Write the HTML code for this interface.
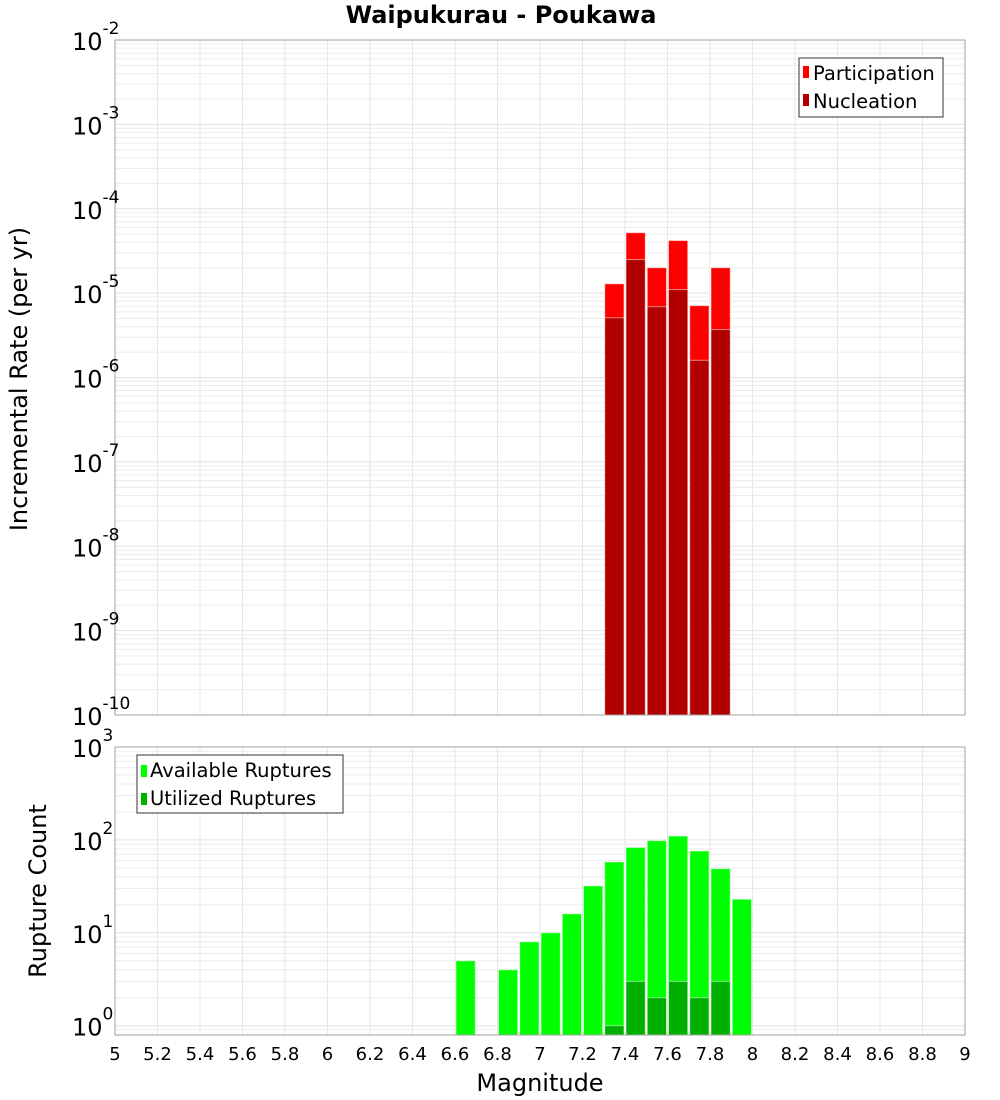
<!DOCTYPE html>
<html><head><meta charset="utf-8"><style>
html,body{margin:0;padding:0;background:#fff;}
svg{display:block;font-family:"DejaVu Sans","Liberation Sans",sans-serif;}
</style></head><body>
<svg id="c" width="1000" height="1100" viewBox="0 0 1000 1100"></svg>
<script>
const magBins=[7.35,7.45,7.55,7.65,7.75,7.85];
const participation=[1.29e-5,5.2e-5,2.0e-5,4.2e-5,7.1e-6,2.0e-5];
const nucleation=[5.1e-6,2.5e-5,6.9e-6,1.1e-5,1.6e-6,3.7e-6];
const countBins=[6.65,6.85,6.95,7.05,7.15,7.25,7.35,7.45,7.55,7.65,7.75,7.85,7.95];
const available=[5,4,8,10,16,32,58,83,98,110,76,49,23];
const utilBins=[7.35,7.45,7.55,7.65,7.75,7.85];
const utilized=[1,3,2,3,2,3];
const xTicks=[5,5.2,5.4,5.6,5.8,6,6.2,6.4,6.6,6.8,7,7.2,7.4,7.6,7.8,8,8.2,8.4,8.6,8.8,9];
const topDecades=[-2,-3,-4,-5,-6,-7,-8,-9,-10];
const botDecades=[3,2,1,0];

const NS="http://www.w3.org/2000/svg";
const svg=document.getElementById('c');
function mk(tag,attrs,parent){const e=document.createElementNS(NS,tag);for(const k in attrs)e.setAttribute(k,attrs[k]);(parent||svg).appendChild(e);return e;}
const L=115,R=965;
const x=v=>L+(v-5)*(R-L)/4;
const T1=40,B1=715,T2=747,B2=1035;
const yTop=v=>T1+(-2-Math.log10(v))*(B1-T1)/8;
const yBot=v=>T2+(3-Math.log10(v))*(B2-T2)/3.1;

function grid(top,bot,yf,dmin,dmax){
  const g=mk('g',{});
  
  
  for(let d=Math.floor(dmin);d<dmax;d++){for(let m=1;m<10;m++){const v=m*Math.pow(10,d);const yy=yf(v);if(yy<top-0.5||yy>bot+0.5)continue;mk('line',{x1:L,x2:R,y1:yy,y2:yy,stroke:m==1?'#e2e2e2':'#ececec','stroke-width':1},g);}}
  xTicks.forEach(t=>mk('line',{x1:x(t),x2:x(t),y1:top,y2:bot,stroke:'#e6e6e6','stroke-width':1},g));
}
grid(T1,B1,yTop,-10,-2);
grid(T2,B2,yBot,-1,3);

function bars(bins,vals,yf,base,color,name){
  bins.forEach((b,i)=>{const x0=x(b-0.05)+1,x1=x(b+0.05)-1;const yy=yf(vals[i]);
    const r=mk('rect',{x:x0,y:yy,width:x1-x0,height:base-yy,fill:color,stroke:'rgba(255,255,255,0.5)','stroke-width':1});
    
    });
}
bars(magBins,participation,yTop,B1,'#ff0000','participation-bar');
bars(magBins,nucleation,yTop,B1,'#b20000','nucleation-bar');
bars(countBins,available,yBot,B2,'#00ff00','available-bar');
bars(utilBins,utilized,yBot,B2,'#00b000','utilized-bar');

mk('rect',{x:L,y:T1,width:R-L,height:B1-T1,fill:'none',stroke:'#a0a0a0'});
mk('rect',{x:L,y:T2,width:R-L,height:B2-T2,fill:'none',stroke:'#a0a0a0'});

function ylab(d,yf,name){
  const yy=yf(Math.pow(10,d));
  const t=mk('text',{x:72,y:yy+10,'font-size':24,fill:'#000'});
  
  
  t.textContent='10';
  const s=mk('tspan',{dy:-16,'font-size':17},t);s.textContent=String(d);
}
topDecades.forEach(d=>ylab(d,yTop,'y-tick-label'));
botDecades.forEach(d=>ylab(d,yBot,'y-tick-label-count'));
xTicks.forEach(t=>{const e=mk('text',{x:x(t),y:1060,'font-size':18,'text-anchor':'middle'});
  
  
  e.textContent=String(t);});
</script>
<div style="position:absolute;left:0;top:0;width:1000px;height:1100px;pointer-events:none;">
<svg width="1000" height="1100" style="position:absolute;left:0;top:0">
<text x="501" y="23" font-size="24" font-weight="bold" text-anchor="middle">Waipukurau - Poukawa</text>
<text x="540" y="1091" font-size="24" text-anchor="middle">Magnitude</text>
<text transform="translate(27,379) rotate(-90)" font-size="24" text-anchor="middle">Incremental Rate (per yr)</text>
<text transform="translate(46,891) rotate(-90)" font-size="24" text-anchor="middle">Rupture Count</text>
<g>
<rect x="799" y="58" width="144" height="59" fill="#fff" stroke="#333"/>
<rect x="803" y="66" width="6" height="12" fill="#ff0000"/>
<text x="813" y="80" font-size="19.5">Participation</text>
<rect x="803" y="94" width="6" height="12" fill="#b20000"/>
<text x="813" y="108" font-size="19.5">Nucleation</text>
</g>
<g>
<rect x="137" y="755" width="206" height="58" fill="#fff" stroke="#333"/>
<rect x="141" y="765" width="6" height="12" fill="#00ff00"/>
<text x="150" y="777" font-size="19.5">Available Ruptures</text>
<rect x="141" y="793" width="6" height="12" fill="#00b000"/>
<text x="150" y="805" font-size="19.5">Utilized Ruptures</text>
</g>
</svg></div>
</body></html>
